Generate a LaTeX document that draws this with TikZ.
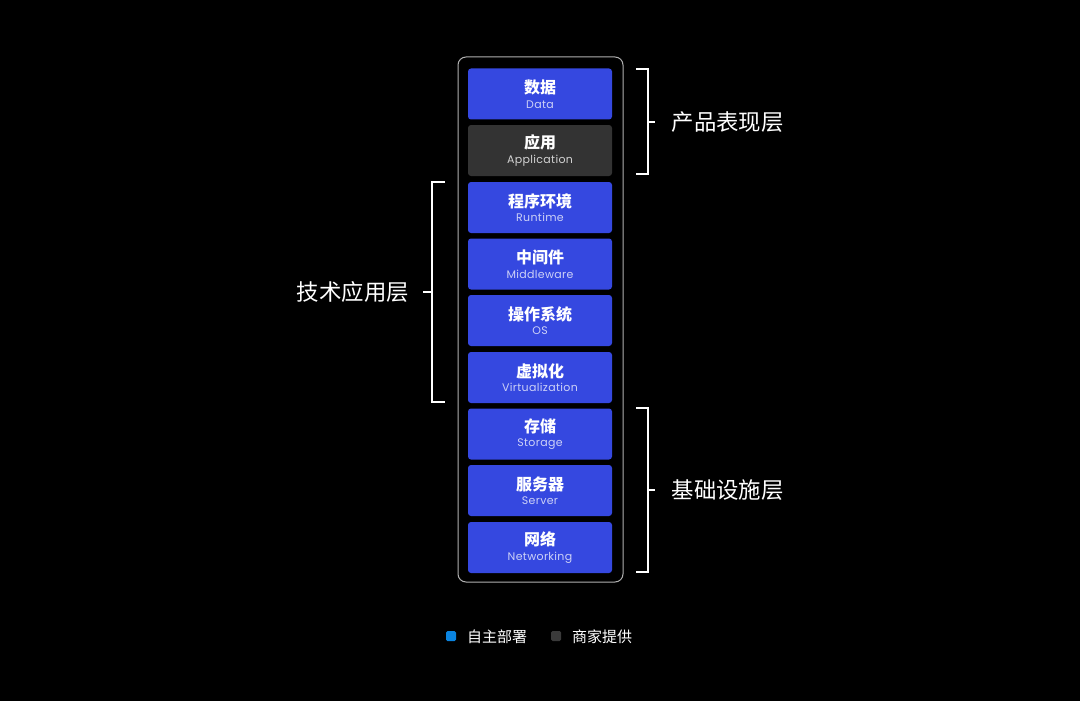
\documentclass[tikz,border=0pt]{standalone}
\usepackage{fontspec}
\setmainfont{Poppins}
\newfontfamily\cjk{Noto Sans CJK SC}
\definecolor{boxblue}{HTML}{3548E0}
\definecolor{boxgrey}{HTML}{333333}
\definecolor{legblue}{HTML}{0A84E0}
\definecolor{leggrey}{HTML}{3A3A3A}
\definecolor{framegrey}{HTML}{B0B0B0}
\begin{document}
\begin{tikzpicture}[x=1pt,y=-1pt,
  layer/.style={fill=boxblue, rounded corners=3pt, minimum width=144pt, minimum height=51pt, inner sep=0pt, draw=none, align=center, text=white},
  provided/.style={layer, fill=boxgrey},
  brk/.style={draw=white, line width=1.4pt},
  lbl/.style={text=white, font=\cjk\fontsize{22.4}{26}\selectfont, inner sep=0pt},
  leg/.style={text=white, font=\cjk\fontsize{15}{18}\selectfont, inner sep=0pt, anchor=west},
  sq/.style={minimum size=10pt, inner sep=0pt, rounded corners=1.5pt}]
\useasboundingbox[fill=black] (0,0) rectangle (1080,701);
\node[draw=framegrey, line width=1pt, rounded corners=8pt, minimum width=165pt, minimum height=525pt, inner sep=0pt] (frame) at (540.5,319.5) {};
\newcommand{\lay}[5]{\node[#1] (#2) at (540,#3) {{\cjk\bfseries\fontsize{16}{18}\selectfont #4}\\[2.5pt]{\fontsize{11}{13}\selectfont\addfontfeatures{LetterSpace=3}\color{white!75!boxblue}#5}};}
\lay{layer}{l1}{94}{数据}{Data}
\node[provided] (l2) at (540,150.5) {{\cjk\bfseries\fontsize{16}{18}\selectfont 应用}\\[2.5pt]{\fontsize{11}{13}\selectfont\addfontfeatures{LetterSpace=3}\color{white!78!boxgrey}Application}};
\lay{layer}{l3}{207.5}{程序环境}{Runtime}
\lay{layer}{l4}{264}{中间件}{Middleware}
\lay{layer}{l5}{320.5}{操作系统}{OS}
\lay{layer}{l6}{377.5}{虚拟化}{Virtualization}
\lay{layer}{l7}{434}{存储}{Storage}
\lay{layer}{l8}{490.5}{服务器}{Server}
\lay{layer}{l9}{547.5}{网络}{Networking}
% brackets
\coordinate (a1) at (636,69); \coordinate (a2) at (648,69); \coordinate (a3) at (648,174); \coordinate (a4) at (636,174);
\coordinate (am) at (648,122); \coordinate (at) at (655,122);
\draw[brk] (a1) -- (a2) -- (a3) -- (a4);
\draw[brk] (am) -- (at);
\node[lbl, anchor=west] (t1) at (671.5,122) {产品表现层};
\coordinate (b1) at (445,182); \coordinate (b2) at (432,182); \coordinate (b3) at (432,402); \coordinate (b4) at (445,402);
\coordinate (bm) at (432,292); \coordinate (bt) at (423,292);
\draw[brk] (b1) -- (b2) -- (b3) -- (b4);
\draw[brk] (bm) -- (bt);
\node[lbl, anchor=east] (t2) at (409,292) {技术应用层};
\coordinate (c1) at (636,408); \coordinate (c2) at (648,408); \coordinate (c3) at (648,572); \coordinate (c4) at (636,572);
\coordinate (cm) at (648,490); \coordinate (ct) at (655,490);
\draw[brk] (c1) -- (c2) -- (c3) -- (c4);
\draw[brk] (cm) -- (ct);
\node[lbl, anchor=west] (t3) at (671.5,490) {基础设施层};
% legend
\node[sq, fill=legblue] (s1) at (451,636) {};
\node[leg] (g1) at (467,636.5) {自主部署};
\node[sq, fill=leggrey] (s2) at (556,636) {};
\node[leg] (g2) at (572,636.5) {商家提供};
\end{tikzpicture}
\end{document}
